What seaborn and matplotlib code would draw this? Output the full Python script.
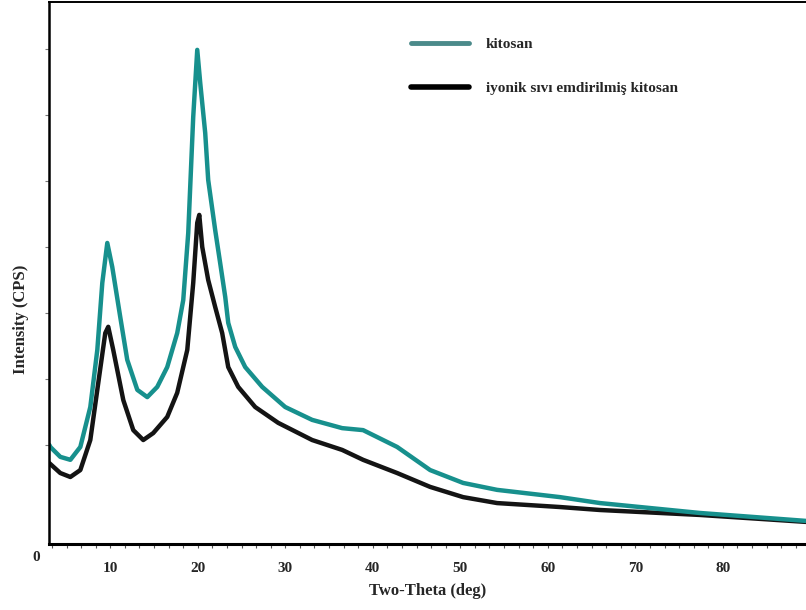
import numpy as np
import pandas as pd
import matplotlib
matplotlib.use("Agg")
import matplotlib.pyplot as plt
from matplotlib.ticker import MultipleLocator, FixedLocator
from matplotlib.lines import Line2D
import seaborn as sns

# --- data (two-theta in degrees, intensity in CPS, arbitrary scale) ---
theta_kitosan = [3.04, 3.15, 4.29, 5.44, 6.58, 7.72, 8.52, 9.09, 9.66, 10.23, 11.14, 11.94,
                 13.09, 14.23, 15.37, 16.51, 17.65, 18.34, 18.91, 19.48, 19.94, 20.28, 20.85,
                 21.19, 21.99, 22.56, 23.14, 23.48, 24.28, 25.42, 27.36, 29.99, 33.07, 36.50,
                 38.89, 42.78, 46.55, 50.32, 54.20, 61.39, 65.96, 77.38, 89.48]
int_kitosan = [300, 294, 264, 255, 294, 415, 588, 791, 912, 839, 688, 558,
               467, 445, 476, 536, 639, 739, 942, 1294, 1497, 1397, 1245,
               1103, 951, 851, 748, 670, 597, 536, 476, 415, 376, 351,
               345, 294, 224, 185, 164, 142, 124, 94, 70]

theta_iyonik = [3.04, 4.29, 5.44, 6.58, 7.72, 8.63, 9.43, 9.77, 10.34, 11.49, 12.63, 13.77,
                14.91, 16.51, 17.65, 18.80, 19.48, 19.94, 20.17, 20.51, 21.19, 21.99, 22.79,
                23.48, 24.62, 26.56, 29.19, 33.07, 36.50, 38.89, 42.78, 46.55, 50.32, 54.20,
                61.39, 65.96, 77.38, 89.48]
int_iyonik = [245, 215, 203, 224, 315, 488, 639, 658, 588, 436, 345, 315,
              336, 385, 458, 588, 791, 973, 997, 900, 800, 718, 639,
              536, 476, 415, 367, 315, 285, 255, 215, 173, 142, 124,
              112, 103, 88, 67]

x_ticks = [10, 20, 30, 40, 50, 60, 70, 80]
x_tick_labels = ["10", "20", "30", "40", "50", "60", "70", "80"]
legend_labels = ["kitosan", "iyonik sıvı emdirilmiş kitosan"]

df = pd.concat([
    pd.DataFrame({"theta": theta_kitosan, "intensity": int_kitosan, "sample": legend_labels[0]}),
    pd.DataFrame({"theta": theta_iyonik, "intensity": int_iyonik, "sample": legend_labels[1]}),
])

sns.set_style("white")
plt.rcParams["font.family"] = ["Liberation Serif", "DejaVu Serif"]

fig = plt.figure(figsize=(8.06, 6.10), dpi=100)
ax = fig.add_axes([49 / 806, 66 / 610, 757 / 806, 542 / 610])

teal = "#17908d"
black = "#141414"
sns.lineplot(data=df, x="theta", y="intensity", hue="sample",
             palette={legend_labels[0]: teal, legend_labels[1]: black},
             hue_order=[legend_labels[1], legend_labels[0]],
             linewidth=3.2, ax=ax, legend=False, estimator=None, sort=False)

ax.set_xlim(3.0, 89.5)
ax.set_ylim(0, 1642)

for s in ["top", "left", "bottom"]:
    ax.spines[s].set_visible(True)
    ax.spines[s].set_color("black")
ax.spines["left"].set_linewidth(1.8)
ax.spines["bottom"].set_linewidth(2.2)
ax.spines["top"].set_linewidth(1.4)
ax.spines["right"].set_visible(False)

ax.xaxis.set_major_locator(FixedLocator(x_ticks))
ax.set_xticklabels(x_tick_labels, fontsize=11, fontweight="bold")
ax.xaxis.set_minor_locator(MultipleLocator(10 / 6))
ax.tick_params(axis="x", which="both", direction="out", length=3, width=0.8,
               color="#555555", pad=10, bottom=True)
ax.yaxis.set_major_locator(FixedLocator([300, 500, 700, 900, 1100, 1300, 1500]))
ax.tick_params(axis="y", which="major", direction="out", length=3, width=0.8,
               color="#777777", labelleft=False, left=True)

ax.set_xlabel("Two-Theta (deg)", fontsize=12, fontweight="bold", labelpad=6)
ax.set_ylabel("Intensity (CPS)", fontsize=12, fontweight="bold")
ax.yaxis.set_label_coords(-0.026, 0.415)
ax.text(-0.012, -0.012, "0", transform=ax.transAxes, ha="right", va="top",
        fontsize=11, fontweight="bold")

handles = [Line2D([0], [0], color="#4b8a8a", linewidth=3.5),
           Line2D([0], [0], color="black", linewidth=4.0)]
leg = ax.legend(handles, legend_labels, loc="upper left", bbox_to_anchor=(0.46, 0.96),
                frameon=False, handlelength=3.8, handletextpad=1.1, labelspacing=2.0,
                prop={"family": "Liberation Serif", "weight": "bold", "size": 11})

fig.savefig("out.png", dpi=100)
